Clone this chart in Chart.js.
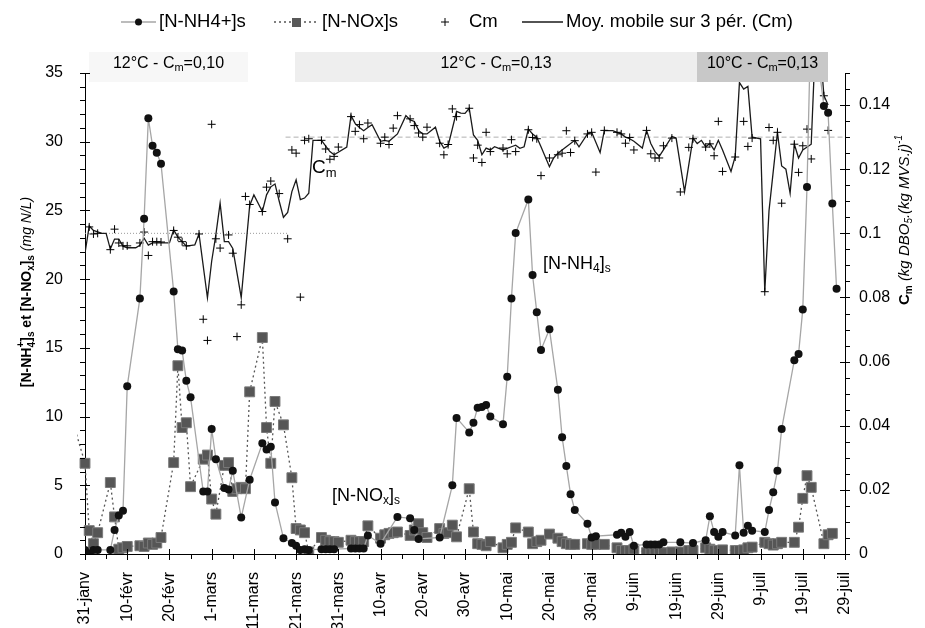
<!DOCTYPE html>
<html>
<head>
<meta charset="utf-8">
<script src="https://cdn.jsdelivr.net/npm/chart.js@4.4.0/dist/chart.umd.min.js"></script>
<style>
  body { margin: 0; background: #fff; }
  #wrap { width: 925px; height: 628px; }
</style>
</head>
<body>
<div id="wrap"><canvas id="chart1" width="925" height="628"></canvas></div>
<script>
// days counted from 31-janv (leap year, tick every 10 days)
const tickLabels = ["31-janv","10-févr","20-févr","1-mars","11-mars","21-mars","31-mars","10-avr","20-avr","30-avr",
  "10-mai","20-mai","30-mai","9-juin","19-juin","29-juin","9-juil","19-juil","29-juil"];

const nh4Days = [0,1,2,3,6,7,8,9,10,13,14,15,16,17,18,21,22,23,24,25,28,29,30,31,33,34,35,37,39,42,43,44,45,47,49,50,51,52,53,
  56,57,58,59,63,64,65,66,67,70,74,77,78,79,84,87,88,91,92,93,94,95,96,99,100,101,102,105,106,107,108,110,112,113,114,115,116,
  119,120,121,126,127,128,129,130,133,134,135,136,137,141,144,147,148,149,150,151,154,155,156,157,158,161,162,163,164,165,
  168,169,170,171,172,175,176,177,178];
const nh4Vals = [0.3,0.05,0.3,0.3,0.3,1.75,2.8,3.15,12.2,18.6,24.4,31.7,29.7,29.2,28.4,19.1,14.9,14.8,12.6,11.4,4.55,4.55,9.1,6.9,4.8,4.7,6.05,2.65,5.4,8.05,7.6,7.8,3.75,1.15,0.8,0.6,0.3,0.35,0.3,
  0.35,0.35,0.35,0.35,0.4,0.4,0.4,0.4,1.35,0.75,2.7,2.6,1.75,1.1,1.2,5.0,9.9,8.85,9.55,10.65,10.7,10.85,10.0,9.45,12.9,18.6,23.35,25.8,20.3,17.6,14.85,16.35,11.95,8.5,6.4,4.35,3.2,
  2.2,1.2,1.3,1.4,1.55,1.25,1.6,0.6,0.7,0.7,0.7,0.7,0.85,0.85,0.8,1.0,2.75,1.6,1.25,1.6,1.35,6.45,1.55,2.05,1.7,1.6,3.2,4.5,6.05,9.1,
  14.1,14.55,17.8,26.7,40,32.6,32.1,25.5,19.3];

const noxDays = [-2,0,1,2,3,6,7,8,9,10,13,14,15,16,17,18,21,22,23,24,25,28,29,30,31,33,34,35,36,37,38,39,42,43,44,45,47,49,50,51,52,53,
  56,57,58,59,60,63,64,65,66,67,70,71,72,73,74,77,78,79,80,81,84,85,86,87,88,91,92,93,94,95,96,99,100,101,102,105,106,107,108,110,
  112,113,114,115,116,119,120,121,123,126,127,128,129,130,133,134,135,136,137,139,141,143,144,147,148,149,150,151,154,155,156,157,158,
  161,162,163,164,165,168,169,170,171,172,175,176,177];
const noxVals = [8.7,6.6,1.7,0.75,1.55,5.2,2.7,0.35,0.45,0.55,0.6,0.55,0.8,0.7,0.8,1.2,6.65,13.7,9.2,9.55,4.9,6.9,7.2,4.0,2.9,6.45,6.65,4.55,4.75,4.85,4.75,11.8,15.75,9.2,6.6,11.1,9.4,5.55,1.85,1.75,1.55,0.15,
  1.2,1.0,0.9,0.9,0.85,1.0,0.9,0.9,0.9,2.05,1.15,1.4,1.5,1.55,1.6,1.35,1.75,2.2,1.55,1.2,1.85,1.5,1.55,2.1,1.25,4.75,1.6,0.75,0.7,0.6,0.9,0.45,0.7,0.85,1.9,1.6,0.75,0.9,1.0,1.45,
  1.15,0.9,0.75,0.7,0.7,0.75,0.7,0.7,0.7,0.45,0.25,0.25,0.25,0.35,0.1,0.1,0.1,0.1,0.1,0.15,0.15,0.25,0.25,0.45,0.35,0.25,0.25,0.3,0.25,0.25,0.3,0.45,0.5,
  0.85,0.75,0.65,0.75,0.85,0.85,1.95,4.05,5.7,4.85,0.75,1.4,1.5];

const cmDays = [1,2,3,6,7,8,9,10,13,14,15,16,17,18,21,22,23,24,27,28,29,30,31,32,34,35,36,37,38,39,42,43,44,46,48,49,50,51,52,53,
  56,57,58,59,60,63,64,65,66,67,70,71,72,73,74,77,78,79,80,81,84,85,86,87,88,91,92,93,94,95,96,99,100,101,102,105,106,107,108,110,
  112,113,114,115,116,119,120,121,123,126,127,128,129,130,133,134,135,136,137,139,141,143,144,147,148,149,150,151,154,156,157,158,
  161,162,163,164,165,168,169,170,171,172,175,176];
const cmVals = [0.102,0.0998,0.1,0.0949,0.1013,0.097,0.0961,0.0961,0.097,0.1004,0.0931,0.0974,0.0974,0.0973,0.1009,0.0988,0.0974,0.0961,0.0998,0.0732,0.0666,0.134,0.0983,0.0954,0.0995,0.0938,0.0678,0.0777,0.1115,0.109,0.1068,0.1144,0.1163,0.1124,0.0983,0.126,0.125,0.0801,0.129,0.1295,
  0.129,0.1263,0.1231,0.124,0.1269,0.1364,0.1318,0.1339,0.1295,0.1344,0.1281,0.13,0.1277,0.1328,0.1367,0.1357,0.1336,0.1313,0.13,0.1331,0.1281,0.1245,0.1277,0.1388,0.1364,0.139,0.1235,0.1275,0.1221,0.1315,0.1255,0.1266,0.1248,0.1292,0.1255,0.1323,0.1299,0.1295,0.118,0.1235,
  0.1245,0.125,0.132,0.1252,0.1289,0.131,0.1315,0.1191,0.1321,0.1315,0.131,0.1281,0.1299,0.126,0.1321,0.1248,0.1235,0.1235,0.1273,0.1297,0.1129,0.1268,0.1295,0.1269,0.1279,0.1242,0.1349,0.1193,0.1238,0.1349,0.1271,0.1297,
  0.0818,0.133,0.129,0.1315,0.1094,0.1278,0.119,0.1273,0.1325,0.1232,0.1429,0.1321];

// moving average line, vertices
const maDays = [0,1,2,4,5,6,7,8,9,10,11,12,13,14,15,16,17,18,19,20,21,22,23,24,26,27,29,30,31,32,33,34,35,37,39,40,42,43,44,45,46,47,48,49,50,51,52,53,54,
  56,58,59,62,63,64,65,66,67,68,70,71,72,74,76,77,78,79,80,81,83,84,85,86,88,89,90,91,92,93,94,95,96,97,98,99,100,101,102,103,104,105,106,107,108,110,111,112,
  114,116,117,119,120,122,123,124,125,126,127,128,129,130,132,133,134,135,136,137,139,140,142,144,145,146,147,148,149,150,151,153,154,155,156,157,158,160,
  161,162,164,165,166,167,168,169,170,172,173,174,175,176];
const maVals = [0.0938,0.1023,0.1009,0.1,0.1,0.0951,0.0982,0.0982,0.096,0.0955,0.0955,0.0955,0.0963,0.0985,0.0963,0.097,0.097,0.097,0.097,0.097,0.1011,0.0988,0.0974,0.096,0.0964,0.0998,0.0799,0.0913,0.0996,0.1094,0.0974,0.0974,0.0953,0.08,0.1086,0.112,0.1068,0.112,0.1145,0.1154,0.11,0.105,0.1065,0.113,0.1167,0.1105,0.111,0.1125,0.129,
  0.129,0.1255,0.1245,0.1269,0.1367,0.1342,0.133,0.132,0.133,0.1339,0.1287,0.129,0.1287,0.131,0.1367,0.1354,0.1349,0.1321,0.131,0.131,0.1331,0.1287,0.1266,0.1273,0.138,0.1375,0.1374,0.139,0.1307,0.129,0.1245,0.1266,0.126,0.127,0.1265,0.126,0.1265,0.127,0.1275,0.1265,0.127,0.1325,0.131,0.13,0.127,0.1208,0.1235,0.125,
  0.127,0.129,0.127,0.131,0.1315,0.1252,0.1321,0.132,0.132,0.1315,0.131,0.13,0.1295,0.1287,0.1266,0.1321,0.128,0.1255,0.124,0.126,0.1302,0.1297,0.113,0.1297,0.128,0.129,0.127,0.128,0.126,0.129,0.126,0.1193,0.124,0.147,0.145,0.1458,0.13,0.1295,
  0.0818,0.107,0.1315,0.121,0.12,0.1125,0.1278,0.1235,0.126,0.1278,0.16,0.16,0.143,0.14];

const FONT = "'Liberation Sans', Arial, sans-serif";

function pts(days, vals) {
  return days.map((d, i) => ({ x: d, y: vals[i] }));
}

// rich text: parts {t, f, dy, stack}
function richWidth(ctx, parts) {
  let w = 0, start = 0, prevW = 0;
  for (const p of parts) {
    ctx.font = p.f;
    const pw = ctx.measureText(p.t).width;
    if (p.stack) { w = start + Math.max(prevW, pw); }
    else { start = w; prevW = pw; w += pw; }
  }
  return w;
}
function drawRich(ctx, parts, x, y, align) {
  const W = richWidth(ctx, parts);
  let cx = align === 'center' ? x - W / 2 : x;
  let start = cx, prevW = 0;
  ctx.textBaseline = 'middle';
  ctx.textAlign = 'left';
  for (const p of parts) {
    ctx.font = p.f;
    const pw = ctx.measureText(p.t).width;
    let px;
    if (p.stack) { px = start; cx = start + Math.max(prevW, pw); }
    else { px = cx; start = cx; prevW = pw; cx += pw; }
    ctx.fillText(p.t, px, y + (p.dy || 0));
  }
}

const decor = {
  id: 'decor',
  beforeDatasetsDraw(chart) {
    const ctx = chart.ctx, x = chart.scales.x, y2 = chart.scales.y2;
    ctx.save();
    ctx.strokeStyle = '#9a9a9a';
    ctx.lineWidth = 1;
    ctx.setLineDash([1, 2]);
    let py = y2.getPixelForValue(0.1);
    ctx.beginPath(); ctx.moveTo(x.getPixelForValue(0), py); ctx.lineTo(x.getPixelForValue(48), py); ctx.stroke();
    ctx.setLineDash([5, 3]);
    ctx.strokeStyle = '#b0b0b0';
    py = y2.getPixelForValue(0.13);
    ctx.beginPath(); ctx.moveTo(x.getPixelForValue(47.5), py); ctx.lineTo(x.getPixelForValue(180), py); ctx.stroke();
    ctx.restore();
  },
  afterDatasetsDraw(chart) {
    const ctx = chart.ctx;
    ctx.save();
    // period boxes above the plot
    const boxes = [
      { x0: 89, x1: 248, fill: '#f7f7f7', val: '=0,10', t: '12°C - C' },
      { x0: 295, x1: 697, fill: '#eeeeee', val: '=0,13', t: '12°C - C' },
      { x0: 697, x1: 828, fill: '#c8c8c8', val: '=0,13', t: '10°C - C' }
    ];
    for (const b of boxes) {
      ctx.fillStyle = b.fill;
      ctx.fillRect(b.x0, 52, b.x1 - b.x0, 30);
      ctx.fillStyle = '#000';
      drawRich(ctx, [
        { t: b.t, f: '16px ' + FONT },
        { t: 'm', f: '11px ' + FONT, dy: 4 },
        { t: b.val, f: '16px ' + FONT }
      ], (b.x0 + b.x1) / 2, 64, 'center');
    }
    // labels in the plot
    ctx.fillStyle = '#000';
    drawRich(ctx, [
      { t: 'C', f: '19px ' + FONT },
      { t: 'm', f: '13px ' + FONT, dy: 5 }
    ], 312, 168, 'left');
    drawRich(ctx, [
      { t: '[N-NH', f: '18px ' + FONT },
      { t: '4', f: '12px ' + FONT, dy: 5 },
      { t: ']', f: '18px ' + FONT },
      { t: 's', f: '12px ' + FONT, dy: 5 }
    ], 543, 264, 'left');
    drawRich(ctx, [
      { t: '[N-NO', f: '18px ' + FONT },
      { t: 'x', f: '12px ' + FONT, dy: 5 },
      { t: ']', f: '18px ' + FONT },
      { t: 's', f: '12px ' + FONT, dy: 5 }
    ], 332, 496, 'left');
    ctx.restore();
  },
  afterDraw(chart) {
    const ctx = chart.ctx, ca = chart.chartArea;
    const x = chart.scales.x, y = chart.scales.y, y2 = chart.scales.y2;
    ctx.save();
    ctx.strokeStyle = '#000';
    ctx.lineWidth = 1;
    // left axis ticks
    for (let v = 0; v <= 35; v++) {
      const py = Math.round(y.getPixelForValue(v)) + 0.5;
      ctx.beginPath();
      if (v % 5 === 0) { ctx.moveTo(ca.left - 5, py); ctx.lineTo(ca.left + 5, py); }
      else { ctx.moveTo(ca.left - 5, py); ctx.lineTo(ca.left, py); }
      ctx.stroke();
    }
    // right axis ticks
    for (let k = 0; k <= 30; k++) {
      const v = k * 0.005;
      const py = Math.round(y2.getPixelForValue(v)) + 0.5;
      ctx.beginPath();
      if (k % 4 === 0) { ctx.moveTo(ca.right - 5, py); ctx.lineTo(ca.right + 5, py); }
      else { ctx.moveTo(ca.right, py); ctx.lineTo(ca.right + 5, py); }
      ctx.stroke();
    }
    // bottom axis ticks
    for (let d = 0; d <= 180; d += 5) {
      const px = Math.round(x.getPixelForValue(d)) + 0.5;
      ctx.beginPath();
      if (d % 10 === 0) { ctx.moveTo(px, ca.bottom - 5); ctx.lineTo(px, ca.bottom + 6); }
      else { ctx.moveTo(px, ca.bottom); ctx.lineTo(px, ca.bottom + 5); }
      ctx.stroke();
    }

    // axis titles
    ctx.fillStyle = '#000';
    ctx.save();
    ctx.translate(27, 292);
    ctx.rotate(-Math.PI / 2);
    drawRich(ctx, [
      { t: '[N-NH', f: 'bold 14px ' + FONT },
      { t: '4', f: 'bold 10px ' + FONT, dy: 5 },
      { t: '+', f: 'bold 10px ' + FONT, dy: -6, stack: true },
      { t: ']', f: 'bold 14px ' + FONT },
      { t: 's', f: 'bold 10px ' + FONT, dy: 4 },
      { t: ' et [N-NO', f: 'bold 14px ' + FONT },
      { t: 'x', f: 'bold 10px ' + FONT, dy: 4 },
      { t: ']', f: 'bold 14px ' + FONT },
      { t: 's', f: 'bold 10px ' + FONT, dy: 4 },
      { t: ' (mg N/L)', f: 'italic 14px ' + FONT }
    ], 0, 0, 'center');
    ctx.restore();

    ctx.save();
    ctx.translate(905, 220);
    ctx.rotate(-Math.PI / 2);
    drawRich(ctx, [
      { t: 'C', f: 'bold 15px ' + FONT },
      { t: 'm', f: 'bold 10px ' + FONT, dy: 4 },
      { t: ' (kg DBO', f: 'italic 15px ' + FONT },
      { t: '5', f: 'italic 10px ' + FONT, dy: 4 },
      { t: '.(kg MVS.j)', f: 'italic 15px ' + FONT },
      { t: '-1', f: 'italic 10px ' + FONT, dy: -6 }
    ], 0, 0, 'center');
    ctx.restore();

    // legend (centred above the chart)
    const ly = 22;
    ctx.lineWidth = 1.3;
    ctx.strokeStyle = '#a6a6a6';
    ctx.beginPath(); ctx.moveTo(121, ly); ctx.lineTo(156, ly); ctx.stroke();
    ctx.fillStyle = '#111';
    ctx.beginPath(); ctx.arc(138.5, ly, 3.5, 0, Math.PI * 2); ctx.fill();
    ctx.strokeStyle = '#555';
    ctx.setLineDash([2, 3]);
    ctx.beginPath(); ctx.moveTo(274, ly); ctx.lineTo(319, ly); ctx.stroke();
    ctx.setLineDash([]);
    ctx.fillStyle = '#595959';
    ctx.fillRect(292, ly - 4, 9, 9);
    ctx.strokeStyle = '#000';
    ctx.lineWidth = 1;
    ctx.beginPath(); ctx.moveTo(441, ly); ctx.lineTo(449, ly); ctx.moveTo(445, ly - 4); ctx.lineTo(445, ly + 4); ctx.stroke();
    ctx.lineWidth = 1.3;
    ctx.strokeStyle = '#1a1a1a';
    ctx.beginPath(); ctx.moveTo(522, ly); ctx.lineTo(563, ly); ctx.stroke();
    ctx.fillStyle = '#000';
    ctx.font = '18.5px ' + FONT;
    ctx.textBaseline = 'middle';
    ctx.textAlign = 'left';
    ctx.fillText('[N-NH4+]s', 159, ly);
    ctx.fillText('[N-NOx]s', 322, ly);
    ctx.fillText('Cm', 469, ly);
    ctx.fillText('Moy. mobile sur 3 pér. (Cm)', 566, ly);
    ctx.restore();
  }
};

const config = {
  type: 'scatter',
  data: {
    datasets: [
      {
        label: '[N-NH4+]s',
        data: pts(nh4Days, nh4Vals),
        yAxisID: 'y',
        showLine: true,
        borderColor: '#a6a6a6',
        borderWidth: 1.3,
        pointStyle: 'circle',
        pointRadius: 4,
        pointBackgroundColor: '#111',
        pointBorderColor: '#111',
        pointBorderWidth: 0
      },
      {
        label: '[N-NOx]s',
        data: pts(noxDays, noxVals),
        yAxisID: 'y',
        showLine: true,
        clip: { left: 8, top: 0, right: 0, bottom: 0 },
        borderColor: '#555',
        borderWidth: 1.3,
        borderDash: [2, 3],
        pointStyle: 'rect',
        pointRadius: 7,
        pointBackgroundColor: '#565656',
        pointBorderColor: '#7a7a7a',
        pointBorderWidth: 1
      },
      {
        label: 'Cm',
        data: pts(cmDays, cmVals),
        yAxisID: 'y2',
        showLine: false,
        pointStyle: 'cross',
        pointRadius: 4,
        pointBorderColor: '#000',
        pointBorderWidth: 1
      },
      {
        label: 'Moy. mobile sur 3 pér. (Cm)',
        data: pts(maDays, maVals),
        yAxisID: 'y2',
        showLine: true,
        borderColor: '#1a1a1a',
        borderWidth: 1.3,
        pointRadius: 0
      }
    ]
  },
  options: {
    responsive: false,
    animation: false,
    layout: { padding: { top: 73, left: 0, right: 0, bottom: 0 } },
    plugins: { legend: { display: false }, tooltip: { enabled: false } },
    scales: {
      x: {
        type: 'linear',
        min: 0, max: 180,
        afterFit: (s) => { s.height = 74; },
        afterBuildTicks: (s) => { s.ticks = tickLabels.map((t, i) => ({ value: i * 10 })); },
        grid: { display: false },
        border: { display: true, color: '#000', width: 1 },
        ticks: {
          autoSkip: false, maxRotation: 90, minRotation: 90, padding: 10,
          color: '#000', font: { family: FONT, size: 16 },
          callback: (v) => tickLabels[Math.round(v / 10)]
        }
      },
      y: {
        position: 'left',
        min: 0, max: 35,
        afterFit: (s) => { s.width = 85; },
        grid: { display: false },
        border: { display: true, color: '#000', width: 1 },
        ticks: { stepSize: 5, padding: 14, color: '#000', font: { family: FONT, size: 16 } }
      },
      y2: {
        position: 'right',
        min: 0, max: 0.15,
        afterFit: (s) => { s.width = 80; },
        grid: { display: false },
        border: { display: true, color: '#000', width: 1 },
        ticks: {
          stepSize: 0.02, includeBounds: false, padding: 6, color: '#000', font: { family: FONT, size: 16 },
          callback: (v) => String(Math.round(v * 100) / 100)
        }
      }
    }
  },
  plugins: [decor]
};

const myChart = new Chart(document.getElementById('chart1'), config);
</script>
</body>
</html>
